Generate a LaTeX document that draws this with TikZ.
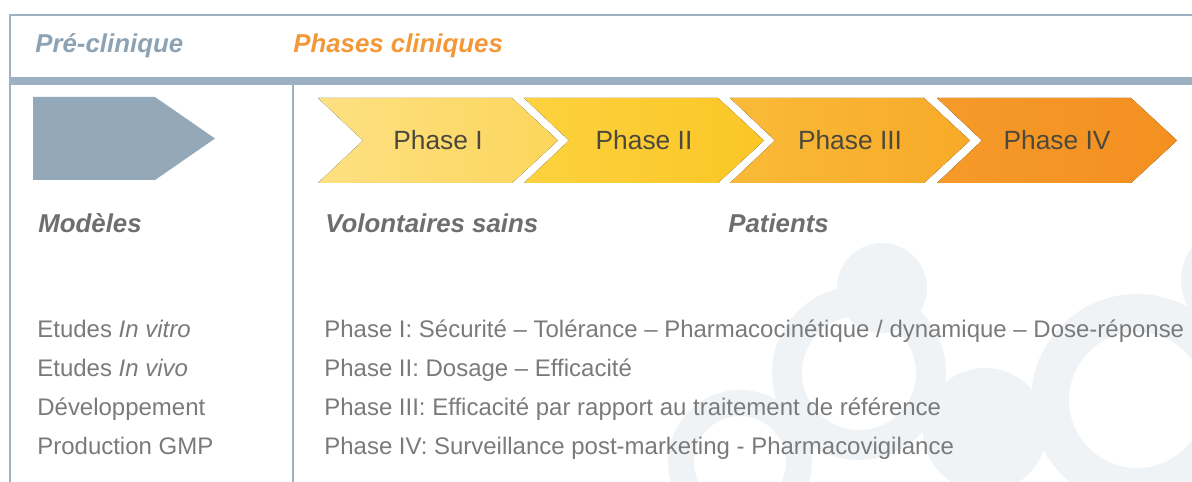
\documentclass[tikz,border=0pt]{standalone}
\usepackage{fontspec}
\setmainfont{Liberation Sans}
\usepackage{tikz}
\usetikzlibrary{positioning}
\definecolor{framegray}{RGB}{158,177,194}
\definecolor{arrowgray}{RGB}{147,168,184}
\definecolor{preblue}{RGB}{141,162,179}
\definecolor{clinorange}{RGB}{242,152,56}
\definecolor{textgray}{RGB}{122,122,122}
\definecolor{labelgray}{RGB}{110,110,110}
\definecolor{phasetext}{RGB}{77,72,60}
\definecolor{watermark}{RGB}{240,243,246}
\definecolor{phaseoneL}{RGB}{253,224,130}
\definecolor{phaseoneR}{RGB}{252,214,92}
\definecolor{phasetwoL}{RGB}{252,210,62}
\definecolor{phasetwoR}{RGB}{251,198,38}
\definecolor{phasethreeL}{RGB}{249,186,56}
\definecolor{phasethreeR}{RGB}{247,170,40}
\definecolor{phasefourL}{RGB}{245,154,42}
\definecolor{phasefourR}{RGB}{243,144,32}

\tikzset{
  headtxt/.style={anchor=base west,inner sep=0pt,font=\fontsize{14.7}{17}\selectfont\bfseries\itshape},
  grouptxt/.style={anchor=base west,inner sep=0pt,text=labelgray,font=\fontsize{14.7}{17}\selectfont\bfseries\itshape},
  listtxt/.style={anchor=base west,inner sep=0pt,text=textgray,font=\fontsize{13.65}{16}\selectfont},
  phasetxt/.style={text=phasetext,font=\fontsize{15}{18}\selectfont},
}

\begin{document}
\begin{tikzpicture}[x=0.02cm,y=-0.02cm]
  \useasboundingbox (0,0) rectangle (1192,482);
  % background circles
  \fill[watermark] (882,288) circle (45);
  \fill[watermark,even odd rule] (859,373) circle (87) (859,373) circle (57);
  \fill[watermark,even odd rule] (740,462) circle (72) (740,462) circle (46);
  \fill[watermark] (985,430) circle (62);
  \fill[watermark,even odd rule] (1137,400) circle (106) (1137,400) circle (68);
  \fill[watermark] (1236,280) circle (55);
  % frame
  \draw[framegray,line width=1.1pt] (10,482) -- (10,15) -- (1192,15);
  \draw[framegray,line width=4pt] (10,81) -- (1192,81);
  \draw[framegray,line width=1.1pt] (293,83) -- (293,482);
  \node[headtxt,text=preblue] (pre) at (35,53) {Pré-clinique};
  \node[headtxt,text=clinorange] (clin) at (293,53) {Phases cliniques};
  % arrows
  \fill[arrowgray] (33,97) -- (155,97) -- (215,138.5) -- (155,180) -- (33,180) -- cycle;
  \foreach \x/\c/\t [count=\i] in {318/phaseone/Phase I,524/phasetwo/Phase II,
                                   730/phasethree/Phase III,937/phasefour/Phase IV}{
    \fill[left color=\c L,right color=\c R] (\x,98) -- ++(194,0) -- ++(46,42.5) -- ++(-46,42.5)
      -- ++(-194,0) -- ++(45,-42.5) -- cycle;
    \node[phasetxt] (ph\i) at (\x+120,140.5) {\t};
  }
  \node[grouptxt] (modeles) at (38,233) {Modèles};
  \node[grouptxt] (volont) at (325,233) {Volontaires sains};
  \node[grouptxt] (patients) at (728,233) {Patients};
  \node[listtxt] (l1) at (37,338) {Etudes \textit{In vitro}};
  \node[listtxt] (l2) at (37,377) {Etudes \textit{In vivo}};
  \node[listtxt] (l3) at (37,416) {Développement};
  \node[listtxt] (l4) at (37,454) {Production GMP};
  \node[listtxt] (r1) at (324,338) {Phase I: Sécurité – Tolérance – Pharmacocinétique / dynamique – Dose-réponse};
  \node[listtxt] (r2) at (324,377) {Phase II: Dosage – Efficacité};
  \node[listtxt] (r3) at (324,416) {Phase III: Efficacité par rapport au traitement de référence};
  \node[listtxt] (r4) at (324,454) {Phase IV: Surveillance post-marketing - Pharmacovigilance};
\end{tikzpicture}
\end{document}
